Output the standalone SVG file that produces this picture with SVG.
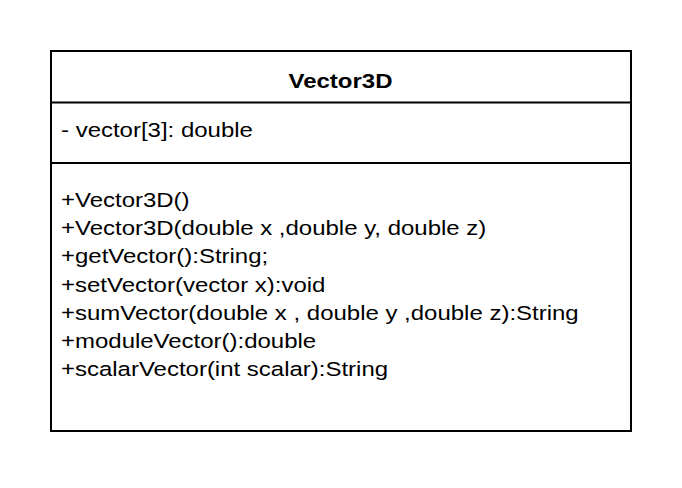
<svg xmlns="http://www.w3.org/2000/svg" width="682" height="488" viewBox="0 0 682 488">
<style>
.box{fill:#ffffff;stroke:#000000;stroke-width:2}
.div{stroke:#000000;stroke-width:2;fill:none}
.t{font-family:"Liberation Sans",Arial,sans-serif;font-size:20.5px;fill:#000000}
.b{font-weight:bold}
</style>
<rect width="682" height="488" fill="#ffffff"/>
<g id="Vector3D">
<rect class="box" x="51" y="51" width="580" height="380"/>
<line class="div" x1="51" y1="102.5" x2="631" y2="102.5"/>
<line class="div" x1="51" y1="163" x2="631" y2="163"/>
<g transform="translate(340.5,0) scale(1.17,1)">
<text class="t b" x="0" y="88" text-anchor="middle">Vector3D</text>
</g>
<g transform="translate(61,0) scale(1.17,1)">
<text class="t" x="0" y="137.5">- vector[3]: double</text>
<text class="t" x="0" y="207">+Vector3D()</text>
<text class="t" x="0" y="235.2">+Vector3D(double x ,double y, double z)</text>
<text class="t" x="0" y="263.4">+getVector():String;</text>
<text class="t" x="0" y="291.6">+setVector(vector x):void</text>
<text class="t" x="0" y="319.8">+sumVector(double x , double y ,double z):String</text>
<text class="t" x="0" y="348">+moduleVector():double</text>
<text class="t" x="0" y="376.2">+scalarVector(int scalar):String</text>
</g>
</g>
<g id="connectors"></g>
</svg>
